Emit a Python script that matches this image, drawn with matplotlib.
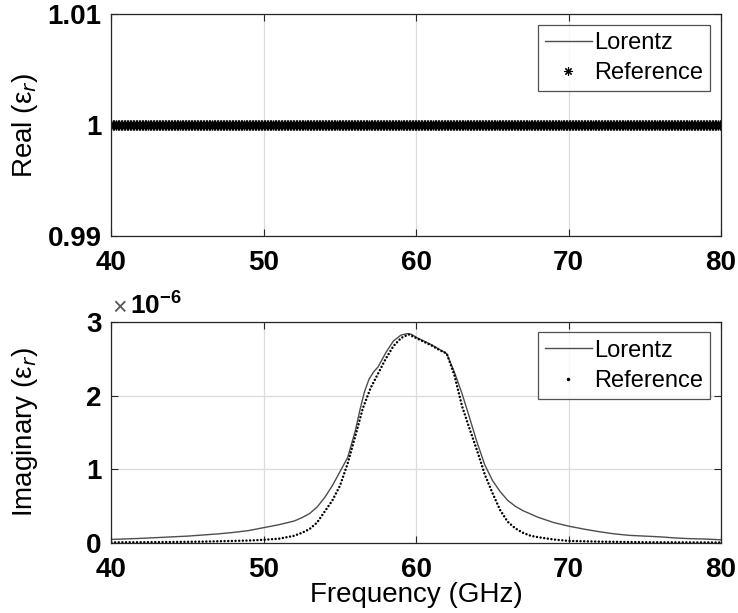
import numpy as np
import matplotlib
matplotlib.use("Agg")
import matplotlib.pyplot as plt
from matplotlib.lines import Line2D

plt.rcParams['font.family'] = ['Liberation Sans', 'DejaVu Sans']
plt.rcParams['mathtext.fontset'] = 'custom'
plt.rcParams['mathtext.rm'] = 'Liberation Sans'
plt.rcParams['mathtext.bf'] = 'Liberation Sans:bold'

# ---- data ----
# real part: sampled frequency grid, both curves sit at 1
freq_real = np.linspace(40, 80, 401)
real_ref = np.ones(len(freq_real))
real_lorentz = np.ones(len(freq_real))

# imaginary part, values in units of 1e-6
freq_lor = [40, 42, 44, 45, 46, 47, 48, 49, 50, 51, 52, 52.5, 53, 53.5, 54, 54.5,
            55, 55.5, 56, 56.3, 56.6, 56.9, 57.2, 57.5, 58, 58.5, 59, 59.4, 59.7,
            60, 60.5, 61, 61.5, 62, 62.5, 63, 63.5, 64, 64.5, 65, 65.5, 66, 66.5,
            67, 68, 69, 70, 71, 72, 73, 74, 75, 76, 77, 78, 79, 80]
imag_lor = [0.05, 0.065, 0.085, 0.095, 0.11, 0.125, 0.145, 0.17, 0.21, 0.25, 0.30, 0.345,
            0.40, 0.49, 0.62, 0.78, 0.97, 1.16, 1.52, 1.80, 2.05, 2.22, 2.32, 2.39,
            2.58, 2.74, 2.82, 2.84, 2.83, 2.79, 2.74, 2.69, 2.63, 2.57, 2.32, 2.03,
            1.70, 1.36, 1.06, 0.85, 0.70, 0.58, 0.50, 0.44, 0.35, 0.28, 0.23, 0.19,
            0.155, 0.125, 0.105, 0.095, 0.085, 0.07, 0.06, 0.055, 0.045]

freq_ref = [40, 42, 44, 46, 48, 49, 50, 51, 52, 52.5, 53, 53.5, 54, 54.5, 55, 55.5,
            56, 56.5, 57, 57.5, 58, 58.5, 59, 59.5, 60, 60.5, 61, 61.5, 62, 62.5,
            63, 63.5, 64, 64.5, 65, 65.5, 66, 66.5, 67, 67.5, 68, 69, 70, 72, 75, 80]
imag_ref = [0.01, 0.012, 0.015, 0.02, 0.03, 0.035, 0.045, 0.06, 0.10, 0.14, 0.19,
            0.28, 0.43, 0.58, 0.78, 1.08, 1.45, 1.83, 2.10, 2.30, 2.50, 2.67, 2.78,
            2.83, 2.78, 2.73, 2.68, 2.62, 2.57, 2.28, 1.86, 1.55, 1.25, 0.93, 0.68,
            0.45, 0.29, 0.20, 0.14, 0.10, 0.08, 0.05, 0.03, 0.02, 0.012, 0.008]

AX_COLOR = '#262626'
GRID_COLOR = '#dcdcdc'
LOR_COLOR = '#4d4d4d'
ASTERISK = (8, 2, 0)


def style_axes(ax):
    ax.set_xlim(40, 80)
    ax.set_xticks([40, 50, 60, 70, 80])
    ax.grid(True, color=GRID_COLOR, linewidth=0.9)
    ax.set_axisbelow(True)
    ax.tick_params(direction='in', top=True, right=True, length=5,
                   width=0.8, color=AX_COLOR, labelsize=20)
    ax.tick_params(axis='x', pad=10)
    ax.tick_params(axis='y', pad=7)
    for lab in ax.get_xticklabels() + ax.get_yticklabels():
        lab.set_fontweight('bold')
    for sp in ax.spines.values():
        sp.set_color(AX_COLOR)
        sp.set_linewidth(0.9)
    ax.yaxis.set_label_coords(-0.118, 0.5)


def add_legend(ax, handles):
    leg = ax.legend(handles=handles, loc='upper right', fontsize=17,
                    frameon=True, fancybox=False, edgecolor=AX_COLOR,
                    borderaxespad=0.45, borderpad=0.3, labelspacing=0.35,
                    handlelength=2.0, handletextpad=0.1)
    leg.get_frame().set_linewidth(0.9)


fig = plt.figure(figsize=(7.38, 6.13), dpi=100)
ax1 = fig.add_axes([0.151, 0.615, 0.826, 0.362])
ax2 = fig.add_axes([0.151, 0.114, 0.826, 0.361])

# top: real part
ax1.plot(freq_real, real_lorentz, color=LOR_COLOR, linewidth=1)
ax1.plot(freq_real, real_ref, linestyle='none', marker=ASTERISK, color='black',
         markersize=7, markeredgewidth=0.9)
ax1.set_ylim(0.99, 1.01)
ax1.set_yticks([0.99, 1.0, 1.01])
ax1.set_yticklabels(['0.99', '1', '1.01'])
style_axes(ax1)
ax1.set_ylabel('Real (\u03b5$_r$)', fontsize=20)
add_legend(ax1, [Line2D([], [], color=LOR_COLOR, linewidth=1, label='Lorentz'),
                 Line2D([], [], color='black', linestyle='none', marker=ASTERISK,
                        markersize=6, markeredgewidth=0.8, label='Reference')])

# bottom: imaginary part
ax2.plot(freq_lor, imag_lor, color=LOR_COLOR, linewidth=1)
ax2.plot(freq_ref, imag_ref, color='black', linewidth=1.8,
         linestyle=(0, (0.01, 1.45)), dash_capstyle='round')
ax2.set_ylim(0, 3)
ax2.set_yticks([0, 1, 2, 3])
style_axes(ax2)
ax2.set_ylabel('Imaginary (\u03b5$_r$)', fontsize=20)
ax2.set_xlabel('Frequency (GHz)', fontsize=20, labelpad=-1)
add_legend(ax2, [Line2D([], [], color=LOR_COLOR, linewidth=1, label='Lorentz'),
                 Line2D([], [], color='black', linestyle='none', marker='.',
                        markersize=3, label='Reference')])

fig.text(0.152, 0.479, '\u00d7', fontsize=18, color='#555555', va='bottom')
fig.text(0.176, 0.479, r'$\mathbf{10^{-6}}$', fontsize=19, va='bottom')

fig.savefig('out.png', dpi=100)
